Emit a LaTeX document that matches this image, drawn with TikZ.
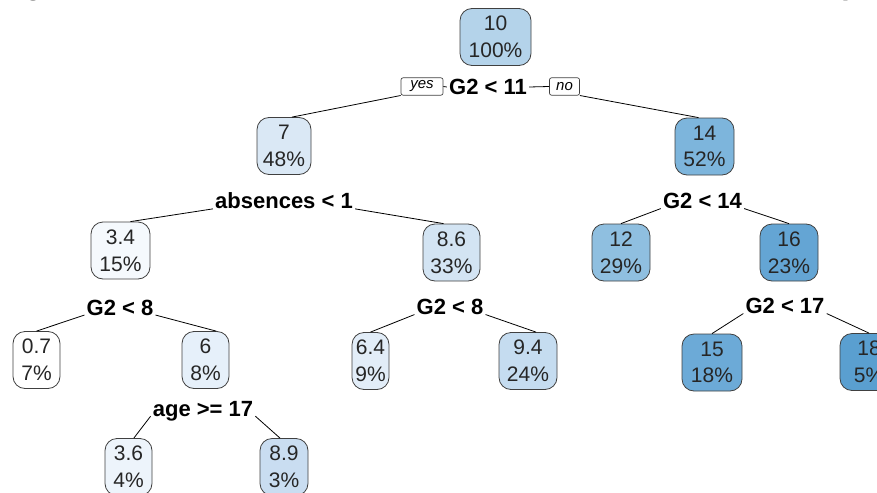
\documentclass[tikz,border=0pt]{standalone}
\usepackage{fontspec}
\setmainfont{Liberation Sans}
\definecolor{c00}{HTML}{FFFFFF}
\definecolor{c34}{HTML}{F5F9FD}
\definecolor{c36}{HTML}{EDF4FB}
\definecolor{c60}{HTML}{E6F0FA}
\definecolor{c64}{HTML}{E2EDF8}
\definecolor{c70}{HTML}{DAE8F5}
\definecolor{c86}{HTML}{D3E4F3}
\definecolor{c89}{HTML}{C9DDF1}
\definecolor{c94}{HTML}{C5DCF0}
\definecolor{c10}{HTML}{B4D3EA}
\definecolor{c12}{HTML}{8FBFE0}
\definecolor{c14}{HTML}{7DB5DC}
\definecolor{c15}{HTML}{6CAAD7}
\definecolor{c16}{HTML}{64A5D4}
\definecolor{c18}{HTML}{5A9FD0}
\begin{document}
\begin{tikzpicture}[x=0.75pt,y=-0.75pt,
  every node/.style={font=\fontsize{15.75}{20}\selectfont},
  leaf/.style={draw=black!75,line width=0.6pt,rounded corners=9pt,align=center,text=black!85,inner xsep=2pt,inner ysep=3pt,minimum height=42.75pt},
  split/.style={font=\bfseries\fontsize{16.5}{18}\selectfont,inner sep=1.5pt},
  tag/.style={draw=black!75,line width=0.5pt,rounded corners=1.5pt,font=\itshape\fontsize{11.25}{12}\selectfont,inner sep=0pt,minimum height=13pt},
  edge/.style={line width=0.6pt}]
  \useasboundingbox (0,0) rectangle (877,492);
  \clip (0,0) rectangle (877,492);
  % cut-off title
  \node[anchor=base west,inner sep=0pt,font=\bfseries\fontsize{22.5}{24}\selectfont] (t1) at (24,-5) {g};
  \node[anchor=base west,inner sep=0pt,font=\bfseries\fontsize{22.5}{24}\selectfont] (t2) at (841,-5) {p};
  % level 0
  \node[leaf,fill=c10,minimum width=53.25pt] (root) at (495.5,37) {10\\100\%};
  \node[split] (s1) at (488,87) {G2 < 11};
  \node[tag,minimum width=31.5pt] (yes) at (422,86.5) {yes};
  \node[tag,minimum width=22.5pt] (no) at (564.5,86.5) {no};
  % level 1
  \node[leaf,fill=c70,minimum width=40.5pt] (n7) at (284,146) {7\\48\%};
  \node[leaf,fill=c14,minimum width=44.25pt] (n14) at (704.5,146.5) {14\\52\%};
  \node[split] (s2) at (284,201) {absences < 1};
  \node[split] (s3) at (702.5,201) {G2 < 14};
  % level 2
  \node[leaf,fill=c34,minimum width=44.25pt] (n34) at (120.5,250.5) {3.4\\15\%};
  \node[leaf,fill=c86,minimum width=42.75pt] (n86) at (451.5,252.5) {8.6\\33\%};
  \node[leaf,fill=c12,minimum width=43.5pt] (n12) at (621,252.5) {12\\29\%};
  \node[leaf,fill=c16,minimum width=43.5pt] (n16) at (789,252.5) {16\\23\%};
  \node[split] (s4) at (120,307.5) {G2 < 8};
  \node[split] (s5) at (450,307) {G2 < 8};
  \node[split] (s6) at (785,306) {G2 < 17};
  % level 3
  \node[leaf,fill=c00,minimum width=35.25pt] (n07) at (36.5,360) {0.7\\7\%};
  \node[leaf,fill=c60,minimum width=35.25pt] (n6) at (205.5,360) {6\\8\%};
  \node[leaf,fill=c64,minimum width=27.75pt] (n64) at (370.5,361) {6.4\\9\%};
  \node[leaf,fill=c94,minimum width=43.5pt] (n94) at (528,361) {9.4\\24\%};
  \node[leaf,fill=c15,minimum width=45pt] (n15) at (712,362.5) {15\\18\%};
  \node[leaf,fill=c18,minimum width=43.5pt] (n18) at (869,362) {18\\5\%};
  \node[split] (s7) at (203,411) {age >= 17};
  % level 4
  \node[leaf,fill=c36,minimum width=35.25pt] (n36) at (128.5,467) {3.6\\4\%};
  \node[leaf,fill=c89,minimum width=36pt] (n89) at (284,467) {8.9\\3\%};
  % connectors
  \draw[edge] (yes.east) -- (s1.west);
  \draw[edge] (s1.east) -- (no.west);
  \draw[edge] (yes.south west) -- ([xshift=6pt]n7.north);
  \draw[edge] (no.south east) -- ([xshift=-4.5pt]n14.north);
  \draw[edge] (s2.base west) -- ([xshift=7.5pt]n34.north);
  \draw[edge] (s2.base east) -- ([xshift=-6pt]n86.north);
  \draw[edge] (s3.base west) -- (n12.north);
  \draw[edge] (s3.base east) -- (n16.north);
  \draw[edge] (s4.base west) -- (n07.north);
  \draw[edge] (s4.base east) -- ([xshift=8pt]n6.north);
  \draw[edge] (s5.base west) -- (n64.north);
  \draw[edge] (s5.base east) -- ([xshift=6pt]n94.north);
  \draw[edge] (s6.base west) -- (n15.north);
  \draw[edge] (s6.base east) -- (n18.north);
  \draw[edge] (s7.base west) -- ([xshift=4pt]n36.north);
  \draw[edge] (s7.base east) -- ([xshift=-3pt]n89.north);
\end{tikzpicture}
\end{document}
